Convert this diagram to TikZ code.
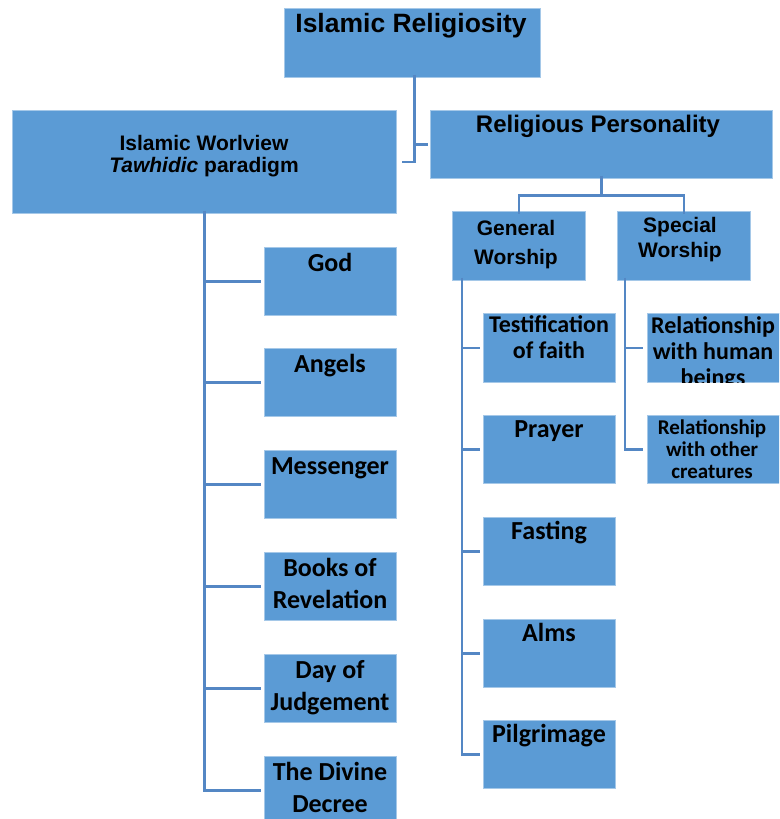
\documentclass[tikz,border=0pt]{standalone}
\usepackage{fontspec}
\setmainfont{Liberation Sans}
\newfontfamily\carl{Carlito}
\usetikzlibrary{calc}
\definecolor{boxblue}{RGB}{91,155,213}
\definecolor{lineblue}{RGB}{84,135,196}
\begin{document}
\begin{tikzpicture}[x=1pt,y=-1pt,
  box/.style={draw=boxblue!55!white, line width=0.6pt, fill=boxblue, inner sep=0pt, anchor=north west},
  conn/.style={draw=lineblue, line width=2.6pt},
  lab/.style={anchor=base, align=center, inner sep=0pt, text=black},
  arA/.style={lab, font=\fontsize{26.5}{30}\selectfont\bfseries},
  arB/.style={lab, font=\fontsize{24}{28}\selectfont\bfseries},
  arC/.style={lab, font=\fontsize{21}{22}\selectfont\bfseries},
  arD/.style={lab, font=\fontsize{21}{29}\selectfont\bfseries},
  arE/.style={lab, font=\fontsize{21}{25}\selectfont\bfseries},
  caA/.style={lab, font=\carl\fontsize{26}{32}\selectfont\bfseries},
  caB/.style={lab, font=\carl\fontsize{24}{26}\selectfont\bfseries},
  caC/.style={lab, font=\carl\fontsize{21}{22}\selectfont\bfseries}]
\useasboundingbox (0,0) rectangle (779,819);
\clip (0,0) rectangle (779,819);

% boxes
\node[box, minimum width=256pt, minimum height=69pt] (top) at (284,8) {};
\node[box, minimum width=384pt, minimum height=103pt] (iw) at (12,110) {};
\node[box, minimum width=342pt, minimum height=68pt] (rp) at (430,110) {};
\node[box, minimum width=133pt, minimum height=69pt] (gw) at (452,211) {};
\node[box, minimum width=133pt, minimum height=69pt] (sw) at (617,211) {};

\node[box, minimum width=132pt, minimum height=68pt] (god) at (264,247) {};
\node[box, minimum width=132pt, minimum height=68pt] (angels) at (264,348) {};
\node[box, minimum width=132pt, minimum height=68pt] (mess) at (264,450) {};
\node[box, minimum width=132pt, minimum height=68pt] (books) at (264,552) {};
\node[box, minimum width=132pt, minimum height=68pt] (day) at (264,654) {};
\node[box, minimum width=132pt, minimum height=68pt] (divine) at (264,756) {};

\node[box, minimum width=132pt, minimum height=69pt] (test) at (483,313) {};
\node[box, minimum width=132pt, minimum height=68pt] (prayer) at (483,415) {};
\node[box, minimum width=132pt, minimum height=68pt] (fast) at (483,517) {};
\node[box, minimum width=132pt, minimum height=68pt] (alms) at (483,619) {};
\node[box, minimum width=132pt, minimum height=68pt] (pilg) at (483,720) {};

\node[box, minimum width=136pt, minimum height=69pt] (relh) at (647,313) {};
\node[box, minimum width=136pt, minimum height=68pt] (relo) at (647,415) {};

% labels (base anchor = baseline of last line)
\node[arA] (topT) at (411,32) {Islamic Religiosity};
\node[arC] (iwT) at (204,172) {Islamic Worlview\\\textit{Tawhidic} paradigm};
\node[arB] (rpT) at (598,132) {Religious Personality};
\node[arD] (gwT) at (516,264) {General\\Worship};
\node[arE] (swT) at (680,257) {Special\\Worship};

\node[caA] (godT) at (330,271) {God};
\node[caA] (angT) at (330,372) {Angels};
\node[caA] (messT) at (330,474) {Messenger};
\node[caA] (booksT) at (330,608) {Books of\\Revelation};
\node[caA] (dayT) at (330,710) {Day of\\Judgement};
\node[caA] (divT) at (330,812) {The Divine\\Decree};

\node[caB] (testT) at (549,358) {Testification\\of faith};
\node[caA] (prT) at (549,437) {Prayer};
\node[caA] (fastT) at (549,539) {Fasting};
\node[caA] (almsT) at (549,641) {Alms};
\node[caA] (pilgT) at (549,742) {Pilgrimage};

\begin{scope}
  \clip (relh.north west) rectangle (relh.south east);
  \node[caB] (relhT) at (713,385) {Relationship\\with human\\beings};
\end{scope}
\node[caC] (reloT) at (712,478) {Relationship\\with other\\creatures};

% connectors
\draw[conn] ([xshift=2pt,yshift=3pt]top.south) |- ([xshift=-2pt]rp.west);
\draw[conn] ([xshift=2pt,yshift=3pt]top.south) |- ([xshift=5pt]iw.east);

\coordinate (rpj) at ($(rp.south)+(0,17)$);
\draw[conn] ([yshift=3pt]rp.south) -- (rpj);
\draw[conn] (rpj) -| ([yshift=-3pt]gw.north);
\draw[conn] (rpj) -| ([yshift=-3pt]sw.north);

\coordinate (ls) at ([yshift=3pt]iw.south);
\draw[conn] (ls) |- ([xshift=-3pt]divine.west);
\foreach \n in {god,angels,mess,books,day}
  \draw[conn] (ls |- \n.west) -- ([xshift=-3pt]\n.west);

\coordinate (ms) at ([xshift=10pt,yshift=3pt]gw.south west);
\draw[conn] (ms) |- ([xshift=-3pt]pilg.west);
\foreach \n in {test,prayer,fast,alms}
  \draw[conn] (ms |- \n.west) -- ([xshift=-3pt]\n.west);

\coordinate (rs) at ([xshift=8pt,yshift=3pt]sw.south west);
\draw[conn] (rs) |- ([xshift=-4pt]relo.west);
\draw[conn] (rs |- relh.west) -- ([xshift=-4pt]relh.west);
\end{tikzpicture}
\end{document}
